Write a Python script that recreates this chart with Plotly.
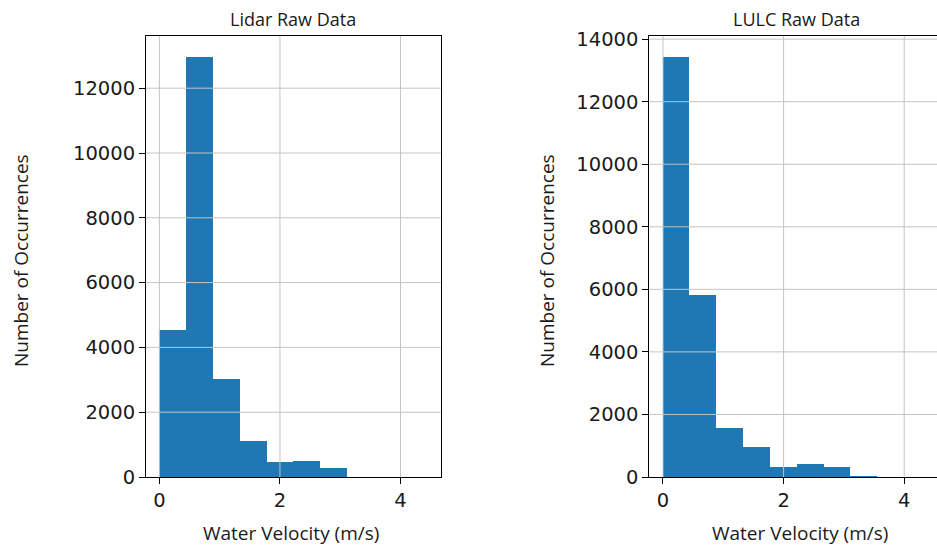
import plotly.graph_objects as go

# ---- data ----
bin_edges = [0.0, 0.444, 0.889, 1.333, 1.778, 2.222, 2.667, 3.111, 3.556, 4.0, 4.444]
lidar_counts = [4530, 12950, 3010, 1110, 455, 505, 270, 0, 0, 0]
lulc_counts = [13430, 5810, 1575, 970, 325, 415, 307, 30, 0, 0]
x_ticks = [0, 2, 4]
lidar_y_ticks = [0, 2000, 4000, 6000, 8000, 10000, 12000]
lulc_y_ticks = [0, 2000, 4000, 6000, 8000, 10000, 12000, 14000]
titles = ["Lidar Raw Data", "LULC Raw Data"]
x_label = "Water Velocity (m/s)"
y_label = "Number of Occurrences"

W, H = 937, 548
BAR = "#1f77b4"
GRID = "#c4c4c4"
TXT = "#1a1a1a"


def px(x):
    return x / W


def py(y):
    return 1 - y / H


centers = [(a + b) / 2 for a, b in zip(bin_edges[:-1], bin_edges[1:])]
widths = [b - a for a, b in zip(bin_edges[:-1], bin_edges[1:])]

fig = go.Figure()
fig.add_trace(go.Bar(x=centers, y=lidar_counts, width=widths, marker=dict(color=BAR, line=dict(width=0)),
                     xaxis="x", yaxis="y", showlegend=False))
fig.add_trace(go.Bar(x=centers, y=lulc_counts, width=widths, marker=dict(color=BAR, line=dict(width=0)),
                     xaxis="x2", yaxis="y2", showlegend=False))

tickfont = dict(family="DejaVu Sans", size=19.5, color=TXT)
common_x = dict(showgrid=False, zeroline=False, showline=True, linecolor="black", linewidth=1,
                ticks="outside", ticklen=6, tickcolor="black", tickvals=x_ticks,
                ticktext=[str(t) for t in x_ticks], tickfont=tickfont, mirror=True)
common_y = dict(showgrid=False, zeroline=False, showline=True, linecolor="black", linewidth=1,
                ticks="outside", ticklen=6, tickcolor="black", tickfont=tickfont)

ydom = [py(477), py(36)]
fig.update_layout(
    width=W, height=H, margin=dict(l=0, r=0, t=0, b=0, autoexpand=False),
    paper_bgcolor="white", plot_bgcolor="white", bargap=0,
    xaxis=dict(domain=[px(146), px(440.7)], range=[-0.222, 4.667], anchor="y", **common_x),
    yaxis=dict(domain=ydom, range=[0, 13611], anchor="x", tickvals=lidar_y_ticks,
               ticktext=[str(t) for t in lidar_y_ticks], mirror=True, **common_y),
    xaxis2=dict(domain=[px(649.3), 1.0], range=[-0.227, 4.544], anchor="y2", **common_x),
    yaxis2=dict(domain=ydom, range=[0, 14100], anchor="x2", tickvals=lulc_y_ticks,
                ticktext=[str(t) for t in lulc_y_ticks], mirror=False, **common_y),
)

# grid lines drawn above bars (as in the reference)
shapes = []
for xr, yr, yt in (("x", "y", lidar_y_ticks), ("x2", "y2", lulc_y_ticks)):
    for t in x_ticks:
        shapes.append(dict(type="line", xref=xr, yref=yr + " domain", x0=t, x1=t, y0=0, y1=1,
                           line=dict(color=GRID, width=1), layer="above"))
    for t in yt[1:]:
        shapes.append(dict(type="line", xref=xr + " domain", yref=yr, x0=0, x1=1, y0=t, y1=t,
                           line=dict(color=GRID, width=1), layer="above"))
fig.update_layout(shapes=shapes)

lab = dict(family="Open Sans", size=19, color=TXT)
tfont = dict(family="Open Sans", size=18, color=TXT)
ann = [
    dict(text=titles[0], x=px(293), y=py(19), xref="paper", yref="paper", showarrow=False,
         font=tfont, xanchor="center", yanchor="middle"),
    dict(text=titles[1], x=px(796.6), y=py(19), xref="paper", yref="paper", showarrow=False,
         font=tfont, xanchor="center", yanchor="middle"),
    dict(text=x_label, x=px(291), y=py(533), xref="paper", yref="paper", showarrow=False,
         font=lab, xanchor="center", yanchor="middle"),
    dict(text=x_label, x=px(800), y=py(533), xref="paper", yref="paper", showarrow=False,
         font=lab, xanchor="center", yanchor="middle"),
    dict(text=y_label, x=px(21), y=py(261), xref="paper", yref="paper", showarrow=False,
         font=lab, textangle=-90, xanchor="center", yanchor="middle"),
    dict(text=y_label, x=px(547), y=py(261), xref="paper", yref="paper", showarrow=False,
         font=lab, textangle=-90, xanchor="center", yanchor="middle"),
]
fig.update_layout(annotations=ann)

fig.write_html("out.html", config={"displayModeBar": False},
               post_script="document.body.style.margin='0';")
